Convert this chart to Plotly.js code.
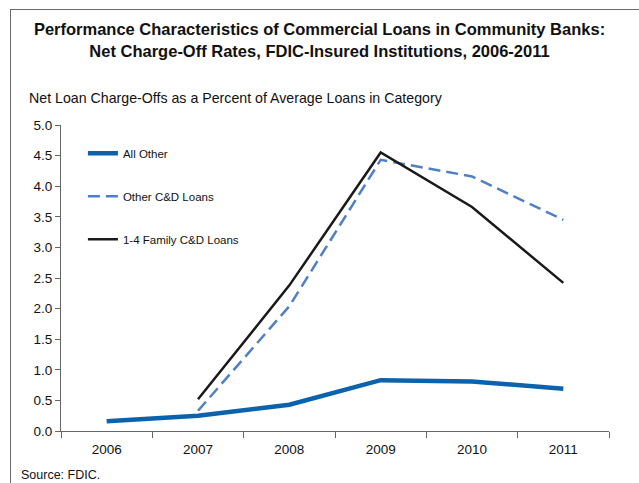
<!DOCTYPE html>
<html>
<head>
<meta charset="utf-8">
<script src="https://cdn.plot.ly/plotly-3.0.1.min.js"></script>
<style>
  html, body { margin: 0; padding: 0; background: #fff; }
  #wrap { position: relative; width: 639px; height: 483px; overflow: hidden; }
  #chart { position: absolute; left: 0; top: 0; width: 639px; height: 483px; }
  #frame { position: absolute; left: 10px; top: 9px; width: 640px; height: 490px;
           border-left: 1.5px solid #6a6a6a; border-top: 1.5px solid #6a6a6a; pointer-events: none; }
</style>
</head>
<body>
<div id="wrap">
  <div id="chart"></div>
  <div id="frame"></div>
</div>
<script>
const years = ['2006', '2007', '2008', '2009', '2010', '2011'];
const allOther = [0.16, 0.25, 0.43, 0.83, 0.81, 0.69];
const otherCD = [null, 0.33, 2.04, 4.43, 4.16, 3.45];
const family14CD = [null, 0.52, 2.38, 4.55, 3.66, 2.42];
const seriesNames = ['All Other', 'Other C&D Loans', '1-4 Family C&D Loans'];
const yTicks = [0, 0.5, 1, 1.5, 2, 2.5, 3, 3.5, 4, 4.5, 5];

const FONT = '"Liberation Sans", Arial, sans-serif';

const traces = [
  { x: years, y: allOther, name: seriesNames[0], type: 'scatter', mode: 'lines',
    line: { color: '#0b62ad', width: 4.5 }, legendgroup: 'a' },
  { x: years, y: otherCD, name: seriesNames[1], type: 'scatter', mode: 'lines',
    line: { color: '#4f7fc4', width: 2.5, dash: '12px,6px' }, legendgroup: 'b' },
  { x: years, y: family14CD, name: seriesNames[2], type: 'scatter', mode: 'lines',
    line: { color: '#1a1a1a', width: 2.5 }, legendgroup: 'c' }
];

const layout = {
  width: 639, height: 483,
  margin: { l: 61, r: 30, t: 125, b: 52 },
  paper_bgcolor: '#ffffff', plot_bgcolor: '#ffffff',
  font: { family: FONT, color: '#111', size: 13.5 },
  title: {
    text: '<b>Performance Characteristics of Commercial Loans in Community Banks:<br>Net Charge-Off Rates, FDIC-Insured Institutions, 2006-2011</b>',
    font: { family: FONT, size: 16.5, color: '#111' },
    x: 0.5, xanchor: 'center', xref: 'container',
    y: 0.927, yanchor: 'top', yref: 'container'
  },
  xaxis: {
    type: 'category', categoryorder: 'array', categoryarray: years,
    tickvals: years, ticktext: years,
    tickson: 'boundaries', ticks: 'outside', ticklen: 6, tickcolor: '#666', tickwidth: 1,
    ticklabelstandoff: 6,
    showline: true, linecolor: '#666', linewidth: 1,
    showgrid: false, zeroline: false,
    range: [-0.5, 5.5],
    tickfont: { family: FONT, size: 13.5, color: '#111' }
  },
  yaxis: {
    range: [0, 5], tickvals: yTicks, ticktext: yTicks.map(v => v.toFixed(1)),
    ticks: 'outside', ticklen: 5, tickcolor: '#666', tickwidth: 1,
    showline: true, linecolor: '#666', linewidth: 1,
    showgrid: false, zeroline: false,
    tickfont: { family: FONT, size: 13.5, color: '#111' }
  },
  showlegend: true,
  legend: {
    x: 0.04, xanchor: 'left', y: 0.955, yanchor: 'top',
    bgcolor: 'rgba(0,0,0,0)', borderwidth: 0,
    font: { family: FONT, size: 11.5, color: '#111' },
    tracegroupgap: 24, traceorder: 'grouped'
  },
  annotations: [
    { text: 'Net Loan Charge-Offs as a Percent of Average Loans in Category',
      xref: 'paper', yref: 'paper', x: -0.062, y: 1.088, xanchor: 'left', yanchor: 'middle',
      showarrow: false, font: { family: FONT, size: 14.2, color: '#111' } },
    { text: 'Source: FDIC.',
      xref: 'paper', yref: 'paper', x: -0.077, y: -0.144, xanchor: 'left', yanchor: 'middle',
      showarrow: false, font: { family: FONT, size: 12.5, color: '#111' } }
  ]
};

Plotly.newPlot('chart', traces, layout, { displayModeBar: false, staticPlot: true });
</script>
</body>
</html>
